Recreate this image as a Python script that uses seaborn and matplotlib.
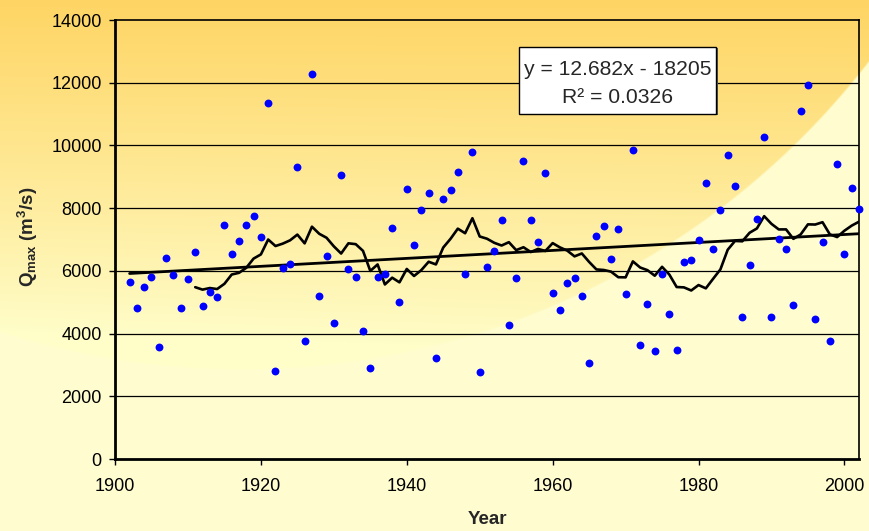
import numpy as np
import pandas as pd
import matplotlib
matplotlib.use("Agg")
import matplotlib.pyplot as plt
import matplotlib.patches as mpatches
import seaborn as sns

# ---- data ----
years = list(range(1902, 2003))
qmax = [5654, 4815, 5475, 5803, 3581, 6420, 5867, 4815, 5750, 6611,
        4879, 5315, 5156, 7472, 6547, 6962, 7472, 7749, 7079, 11362,
        2806, 6080, 6207, 9301, 3753, 12277, 5208, 6483, 4347, 9066,
        6059, 5814, 4071, 2902, 5814, 5899, 7366, 4996, 8610, 6834,
        7940, 8471, 3221, 8291, 8588, 9142, 5910, 9779, 2785, 6122,
        6633, 7610, 4283, 5761, 9503, 7610, 6909, 9120, 5293, 4762,
        5601, 5782, 5208, 3061, 7111, 7430, 6388, 7334, 5251, 9853,
        3646, 4932, 3444, 5899, 4634, 3466, 6271, 6346, 6983, 8801,
        6696, 7929, 9704, 8705, 4528, 6186, 7643, 10268, 4528, 7025,
        6706, 4911, 11107, 11926, 4474, 6930, 3763, 9407, 6547, 8652,
        7962]
ma_period = 10
trend_slope = 12.682
trend_intercept = -18205
eq_lines = ["y = 12.682x - 18205", "R\u00b2 = 0.0326"]
x_ticks = [1900, 1920, 1940, 1960, 1980, 2000]
y_ticks = [0, 2000, 4000, 6000, 8000, 10000, 12000, 14000]

df = pd.DataFrame({"Year": years, "Qmax": qmax})
df["MA"] = df["Qmax"].rolling(ma_period).mean()
df["Trend"] = trend_slope * df["Year"] + trend_intercept

sns.set_theme(style="white")
plt.rcParams["font.family"] = ["Liberation Sans", "DejaVu Sans"]
plt.rcParams["mathtext.fontset"] = "custom"
plt.rcParams["mathtext.rm"] = "Liberation Sans"
plt.rcParams["mathtext.it"] = "Liberation Sans:italic"
plt.rcParams["mathtext.bf"] = "Liberation Sans:bold"

W, H = 869, 531
fig = plt.figure(figsize=(W / 100, H / 100), dpi=100)

# ---- background gradient ----
yy, xx = np.mgrid[0:H, 0:W].astype(float)
orange = np.array([254, 213, 100]) / 255.0
pale = np.array([255, 253, 200]) / 255.0
light = np.array([255, 253, 208]) / 255.0
L = 330 + 30 * (xx / W)
f = np.clip(1 - yy / L, 0, 1) ** 0.95
d = np.sqrt((xx - 241) ** 2 + (yy + 424) ** 2)
inside = np.clip((793 - d) / 2.0 + 0.5, 0, 1)
grad = pale[None, None, :] + f[..., None] * (orange - pale)[None, None, :]
img = grad * inside[..., None] + light[None, None, :] * (1 - inside[..., None])
img = np.clip(img, 0, 1)
bg = fig.add_axes([0, 0, 1, 1], zorder=-1)
bg.imshow(img, aspect="auto", extent=(0, W, H, 0), interpolation="bilinear")
bg.axis("off")

# ---- main axes ----
ax = fig.add_axes([115 / W, (H - 459) / H, (859 - 115) / W, (459 - 20) / H])
ax.set_facecolor("none")

for yv in y_ticks[1:-1]:
    ax.axhline(yv, color="black", lw=0.9, zorder=1)

sns.lineplot(data=df, x="Year", y="Trend", color="black", lw=2.0, ax=ax, zorder=3)
sns.lineplot(data=df.dropna(), x="Year", y="MA", color="black", lw=1.9, ax=ax, zorder=3)
sns.scatterplot(data=df, x="Year", y="Qmax", color="#0000FF", s=32, linewidth=0,
                ax=ax, zorder=4, clip_on=False)

ax.set_xlim(1900, 2002)
ax.set_ylim(0, 14000)
ax.set_xticks(x_ticks)
ax.set_yticks(y_ticks)
ax.tick_params(axis="both", direction="out", length=4.5, width=1, color="black",
               labelsize=13, labelcolor="black")
ax.tick_params(axis="x", pad=9)
ax.tick_params(axis="y", pad=5)
ax.tick_params(axis="both", which="both", bottom=True, left=True)
for side in ["left", "bottom"]:
    ax.spines[side].set_linewidth(2.0)
    ax.spines[side].set_color("black")
for side in ["top", "right"]:
    ax.spines[side].set_linewidth(1.2)
    ax.spines[side].set_color("black")
    ax.spines[side].set_visible(True)

ax.set_xlabel("Year", fontsize=13.5, fontweight="bold")
ax.xaxis.set_label_coords(0.5, -(511 - 459) / 439)
ax.set_ylabel("")
fig.text(28 / W, 1 - 237 / H, r"$\mathbf{Q_{max}\ (m^3/s)}$", rotation=90,
         ha="center", va="center", fontsize=13.5)

# ---- equation box ----
shadow = mpatches.Rectangle((520.5 / W, 1 - 115.5 / H), 197 / W, 67 / H,
                            transform=fig.transFigure, fc="#555555", ec="none",
                            zorder=9, clip_on=False)
ax.add_patch(shadow)
rect = mpatches.Rectangle((519 / W, 1 - 114 / H), 197 / W, 67 / H,
                          transform=fig.transFigure, fc="white", ec="black",
                          lw=1.0, zorder=10, clip_on=False)
ax.add_patch(rect)
fig.text(617.5 / W, 1 - 75 / H, eq_lines[0], ha="center", va="baseline",
         fontsize=15.2, zorder=11)
fig.text(617.5 / W, 1 - 103 / H, eq_lines[1], ha="center", va="baseline",
         fontsize=15.2, zorder=11)

fig.savefig("out.png", dpi=100)
